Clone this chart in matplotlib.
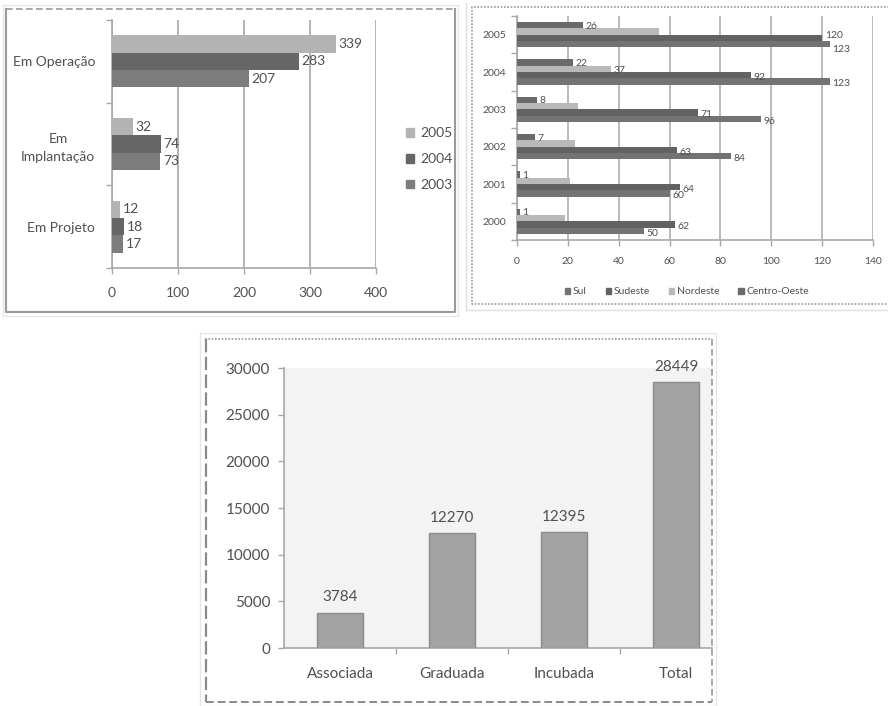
import matplotlib.pyplot as plt
from matplotlib.patches import Patch
from matplotlib.lines import Line2D

plt.rcParams['font.family'] = ['Lato', 'DejaVu Sans']

W, H = 888, 706

# panel 1: incubadoras por situacao
sit_cats = ['Em Projeto', 'Em\nImplantação', 'Em Operação']
sit_2005 = [12, 32, 339]
sit_2004 = [18, 74, 283]
sit_2003 = [17, 73, 207]

# panel 2: incubadoras por regiao
years = ['2000', '2001', '2002', '2003', '2004', '2005']
centro_oeste = [1, 1, 7, 8, 22, 26]
nordeste = [19, 21, 23, 24, 37, 56]
sudeste = [62, 64, 63, 71, 92, 120]
sul = [50, 60, 84, 96, 123, 123]

# panel 3: empresas
emp_cats = ['Associada', 'Graduada', 'Incubada', 'Total']
emp_vals = [3784, 12270, 12395, 28449]

TXT = '#505050'
GRID = '#a8a8a8'


def box(x0, y0, x1, y1):
    # pixel box -> figure fraction [left, bottom, width, height]
    return [x0 / W, 1 - y1 / H, (x1 - x0) / W, (y1 - y0) / H]


def fline(fig, xs, ys, **kw):
    fig.add_artist(Line2D([x / W for x in xs], [1 - y / H for y in ys],
                          transform=fig.transFigure, **kw))


def style_axes(ax):
    for s in ['top', 'right']:
        ax.spines[s].set_visible(False)
    for s in ['left', 'bottom']:
        ax.spines[s].set_color(GRID)
        ax.spines[s].set_linewidth(1.2)
    ax.tick_params(colors=GRID, labelcolor=TXT, length=4, width=1)


fig = plt.figure(figsize=(W / 100, H / 100), dpi=100)

# ---- frames ----
fline(fig, [3, 458, 458, 3, 3], [5, 5, 316, 316, 5], color='#e6e6e6', lw=1)
fline(fig, [6, 455], [9, 9], color='#9a9a9a', lw=1.2, ls=(0, (4, 2)))
fline(fig, [455, 455, 6, 6], [9, 312, 312, 9], color='#9a9a9a', lw=1.5)

fline(fig, [466, 890], [310, 310], color='#e0e0e0', lw=1)
fline(fig, [466, 466], [3, 310], color='#e0e0e0', lw=1)
fline(fig, [890, 472, 472, 890], [7, 7, 304, 304], color='#9a9a9a', lw=1.2,
      ls=(0, (1, 1)))

fline(fig, [200, 716, 716, 200, 200], [333, 333, 706, 706, 333], color='#e6e6e6', lw=1)
fline(fig, [205, 712], [339, 339], color='#9a9a9a', lw=1.2, ls=(0, (1, 1)))
fline(fig, [206, 206], [339, 702], color='#8a8a8a', lw=1.6, ls=(0, (6, 2)))
fline(fig, [206, 712], [702, 702], color='#8a8a8a', lw=1.4, ls=(0, (4, 2)))
fline(fig, [712, 712], [339, 702], color='#9a9a9a', lw=1.2, ls=(0, (4, 2)))

# ---- panel 1 ----
ax1 = fig.add_axes(box(112, 20, 376, 268))
y = range(len(sit_cats))
h = 0.21
c05, c04, c03 = '#b3b3b3', '#666666', '#7c7c7c'
ax1.barh([i + h for i in y], sit_2005, height=h, color=c05, zorder=3)
ax1.barh(list(y), sit_2004, height=h, color=c04, zorder=3)
ax1.barh([i - h for i in y], sit_2003, height=h, color=c03, zorder=3)
for i in y:
    for off, v in [(h, sit_2005[i]), (0, sit_2004[i]), (-h, sit_2003[i])]:
        ax1.text(v + 4, i + off, str(v), va='center', ha='left',
                 fontsize=10, color=TXT, zorder=4)
ax1.set_xlim(0, 400)
ax1.set_ylim(-0.5, 2.5)
ax1.set_xticks([0, 100, 200, 300, 400])
ax1.set_yticks([-0.5, 0.5, 1.5, 2.5])
ax1.set_yticklabels([])
ax1.set_yticks(list(y), minor=True)
ax1.set_yticklabels(sit_cats, minor=True, fontsize=10, color=TXT,
                    ha='right', multialignment='center', linespacing=1.6)
ax1.tick_params(axis='y', which='minor', length=0, pad=12)
ax1.xaxis.grid(True, color=GRID, lw=1.2, zorder=0)
style_axes(ax1)
ax1.tick_params(axis='x', labelsize=10, pad=10)

fig.legend(handles=[Patch(color=c05, label='2005'), Patch(color=c04, label='2004'),
                    Patch(color=c03, label='2003')],
           loc='center left', bbox_to_anchor=(393 / W, 1 - 159 / H),
           frameon=False, fontsize=10, handlelength=0.6, handleheight=0.6,
           handletextpad=0.5, labelspacing=1.0, labelcolor=TXT)

# ---- panel 2 ----
ax2 = fig.add_axes(box(517, 16, 873, 240))
yy = range(len(years))
bh = 0.17
c_sul, c_sud, c_nor, c_co = '#737373', '#626262', '#b9b9b9', '#6a6a6a'
ax2.barh([i + 1.5 * bh for i in yy], centro_oeste, height=bh, color=c_co, zorder=3)
ax2.barh([i + 0.5 * bh for i in yy], nordeste, height=bh, color=c_nor, zorder=3)
ax2.barh([i - 0.5 * bh for i in yy], sudeste, height=bh, color=c_sud, zorder=3)
ax2.barh([i - 1.5 * bh for i in yy], sul, height=bh, color=c_sul, zorder=3)
for i in yy:
    ax2.text(centro_oeste[i] + 1, i + 1.5 * bh - 0.03, str(centro_oeste[i]),
             va='center', fontsize=7.5, color=TXT, zorder=4)
    # the two long bars of 2005 end almost together: spread their labels
    d_sud = 0.05 if i == 5 else -0.06
    d_sul = -0.14 if i == 5 else -0.06
    ax2.text(sudeste[i] + 1, i - 0.5 * bh + d_sud, str(sudeste[i]),
             va='center', fontsize=7.5, color=TXT, zorder=4)
    ax2.text(sul[i] + 1, i - 1.5 * bh + d_sul, str(sul[i]),
             va='center', fontsize=7.5, color=TXT, zorder=4)
ax2.text(nordeste[4] + 1, 4 + 0.5 * bh - 0.05, str(nordeste[4]),
         va='center', fontsize=7.5, color=TXT, zorder=4)
ax2.set_xlim(0, 140)
ax2.set_ylim(-0.5, 5.5)
ax2.set_xticks(range(0, 141, 20))
ax2.set_yticks([i - 0.5 for i in range(7)])
ax2.set_yticklabels([])
ax2.set_yticks(list(yy), minor=True)
ax2.set_yticklabels(years, minor=True, fontsize=7.5, color=TXT)
ax2.tick_params(axis='y', which='minor', length=0, pad=8)
ax2.xaxis.grid(True, color=GRID, lw=1.1, zorder=0)
style_axes(ax2)
ax2.tick_params(axis='x', labelsize=7.5, pad=8)

fig.legend(handles=[Patch(color=c_sul, label='Sul'), Patch(color=c_sud, label='Sudeste'),
                    Patch(color=c_nor, label='Nordeste'),
                    Patch(color=c_co, label='Centro-Oeste')],
           loc='center', bbox_to_anchor=(687 / W, 1 - 292 / H), ncol=4,
           frameon=False, fontsize=7.5, handlelength=0.5, handleheight=0.5,
           handletextpad=0.3, columnspacing=1.8, labelcolor=TXT)

# ---- panel 3 ----
ax3 = fig.add_axes(box(284, 368, 712, 648))
ax3.set_facecolor('#f3f3f3')
x = range(len(emp_cats))
ax3.bar(list(x), emp_vals, width=0.41, color='#a3a3a3', edgecolor='#8c8c8c',
        lw=1, zorder=3)
for i, v in zip(x, emp_vals):
    ax3.text(i, v + 900, str(v), ha='center', va='bottom', fontsize=11,
             color=TXT, zorder=4)
ax3.set_xlim(-0.5, 3.32)
ax3.set_ylim(0, 30000)
ax3.set_yticks(range(0, 30001, 5000))
ax3.set_xticks([0.5, 1.5, 2.5])
ax3.set_xticklabels([])
ax3.set_xticks(list(x), minor=True)
ax3.set_xticklabels(emp_cats, minor=True, fontsize=11, color=TXT)
ax3.tick_params(axis='x', which='minor', length=0, pad=14)
style_axes(ax3)
ax3.tick_params(axis='y', labelsize=11, pad=6)

fig.savefig('out.png', dpi=100)
